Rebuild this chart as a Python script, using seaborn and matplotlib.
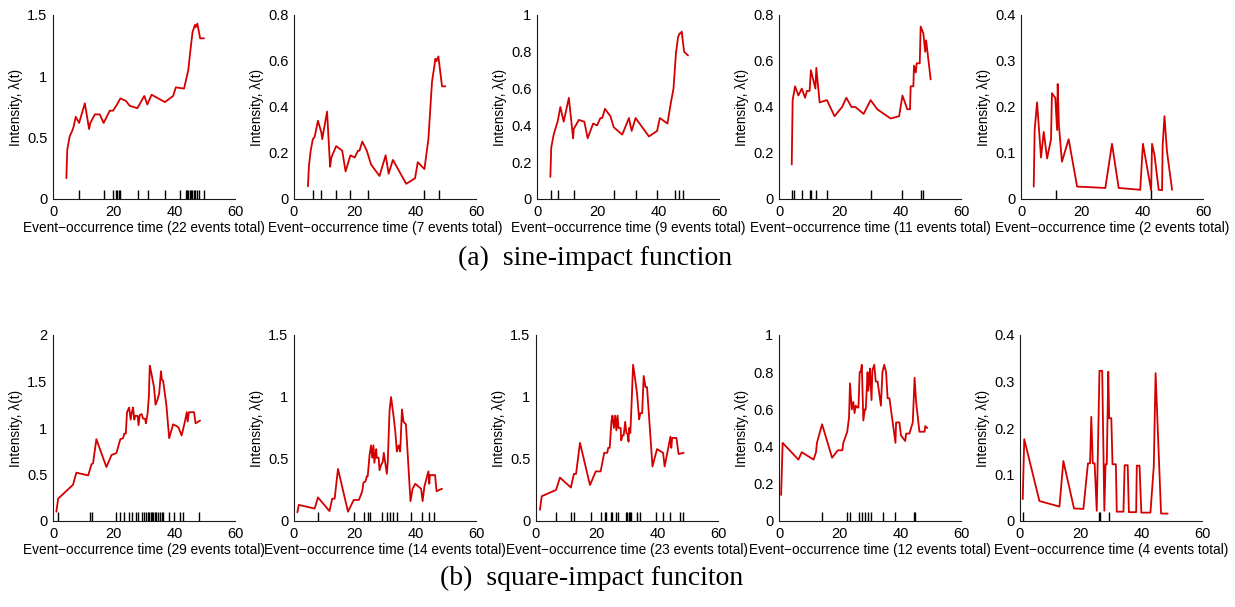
import numpy as np
import pandas as pd
import matplotlib
matplotlib.use("Agg")
import matplotlib.pyplot as plt
import seaborn as sns
from matplotlib.ticker import FuncFormatter, MultipleLocator

# ---------------- data ----------------
# (a) sine-impact function
t_a1 = [4.4, 4.7, 5.5, 6.4, 6.8, 7.5, 8.6, 10.5, 11.9, 12.3, 13.8, 15.4, 16.7, 18.7, 19.8, 21.1, 22.2,
        24.0, 25.3, 27.8, 30.1, 31.1, 32.5, 36.9, 39.6, 40.5, 43.2, 44.6, 45.2, 46.0, 46.8, 47.0, 47.6, 48.5, 49.8]
lam_a1 = [0.17, 0.40, 0.51, 0.56, 0.59, 0.67, 0.62, 0.78, 0.57, 0.62, 0.69, 0.69, 0.62, 0.72, 0.72, 0.77, 0.82,
          0.80, 0.76, 0.74, 0.84, 0.77, 0.85, 0.79, 0.84, 0.91, 0.90, 1.05, 1.19, 1.36, 1.42, 1.40, 1.43, 1.31, 1.31]
ev_a1 = [8.6, 16.8, 19.8, 20.7, 21.1, 21.6, 22.0, 28.0, 31.2, 37.0, 41.9, 43.7, 44.2, 44.6, 45.0, 45.5,
         45.9, 46.5, 46.9, 47.4, 48.2, 49.7]

t_a2 = [4.6, 4.9, 5.5, 6.2, 6.8, 7.9, 9.0, 9.3, 10.9, 11.9, 12.3, 13.9, 15.9, 17.0, 18.6, 20.0, 21.1, 21.6,
        22.5, 24.0, 25.4, 28.2, 30.2, 31.2, 32.6, 37.0, 39.9, 40.8, 43.0, 44.3, 45.5, 46.3, 46.6, 47.0, 47.6, 48.8, 49.9]
lam_a2 = [0.055, 0.14, 0.21, 0.26, 0.27, 0.34, 0.29, 0.26, 0.38, 0.14, 0.18, 0.23, 0.21, 0.12, 0.19, 0.18, 0.21, 0.21,
          0.25, 0.21, 0.15, 0.10, 0.19, 0.11, 0.17, 0.066, 0.09, 0.16, 0.13, 0.26, 0.51, 0.58, 0.61, 0.60, 0.62, 0.49, 0.49]
ev_a2 = [6.25, 9.0, 13.9, 18.6, 24.3, 43.0, 47.9]

t_a3 = [4.4, 4.7, 5.5, 6.4, 6.8, 7.7, 8.8, 10.5, 11.9, 12.1, 13.8, 15.6, 16.7, 18.5, 19.8, 20.9, 21.5, 22.4,
        24.2, 25.3, 28.1, 30.3, 31.2, 32.5, 36.9, 39.6, 40.5, 43.0, 44.1, 45.0, 45.8, 46.5, 47.0, 47.4, 47.7, 48.5, 49.8]
lam_a3 = [0.12, 0.28, 0.35, 0.40, 0.42, 0.50, 0.42, 0.55, 0.33, 0.38, 0.43, 0.42, 0.33, 0.41, 0.40, 0.44, 0.44, 0.49,
          0.45, 0.39, 0.35, 0.44, 0.37, 0.44, 0.34, 0.37, 0.44, 0.41, 0.52, 0.60, 0.79, 0.88, 0.90, 0.90, 0.91, 0.80, 0.78]
ev_a3 = [4.6, 6.8, 12.1, 25.3, 32.5, 39.6, 45.4, 46.8, 48.2]

t_a4 = [4.2, 4.5, 5.3, 6.4, 7.5, 8.6, 9.2, 10.1, 10.5, 12.0, 12.3, 13.4, 15.8, 18.3, 20.8, 22.2, 23.9, 25.2,
        27.9, 30.2, 31.3, 32.4, 36.8, 39.6, 40.7, 42.3, 43.2, 43.4, 44.3, 44.5, 45.1, 45.4, 46.4, 46.7, 47.6,
        48.2, 48.5, 50.0]
lam_a4 = [0.15, 0.43, 0.49, 0.45, 0.48, 0.44, 0.47, 0.47, 0.56, 0.48, 0.57, 0.42, 0.43, 0.36, 0.40, 0.44, 0.40, 0.40,
          0.37, 0.43, 0.41, 0.39, 0.35, 0.36, 0.45, 0.39, 0.39, 0.49, 0.49, 0.58, 0.55, 0.59, 0.59, 0.75, 0.72,
          0.64, 0.69, 0.52]
ev_a4 = [4.2, 5.0, 7.5, 10.1, 10.5, 12.3, 15.8, 30.2, 40.7, 46.7, 47.6]

t_a5 = [4.2, 4.5, 5.3, 6.6, 7.5, 8.6, 9.9, 10.2, 11.3, 11.9, 12.1, 12.5, 13.5, 15.7, 18.5, 27.8, 30.0, 32.2,
        39.3, 40.2, 42.9, 43.2, 44.0, 45.4, 46.5, 46.7, 47.3, 48.1, 49.8]
lam_a5 = [0.027, 0.15, 0.21, 0.09, 0.146, 0.088, 0.13, 0.23, 0.22, 0.15, 0.25, 0.16, 0.081, 0.13, 0.027, 0.024,
          0.12, 0.024, 0.02, 0.12, 0.019, 0.12, 0.096, 0.02, 0.019, 0.117, 0.18, 0.105, 0.02]
ev_a5 = [11.6, 42.9]

# (b) square-impact function
t_b1 = [1.1, 1.7, 6.6, 7.7, 11.6, 12.7, 13.2, 14.3, 17.6, 19.3, 20.9, 22.2, 23.1, 23.5, 24.0, 24.4, 25.1, 25.6,
        26.0, 26.4, 26.8, 27.1, 27.9, 28.2, 28.6, 29.2, 29.7, 30.4, 30.6, 31.2, 31.6, 31.9, 32.3, 33.3, 33.8,
        34.4, 35.0, 35.6, 35.9, 36.3, 37.4, 38.3, 39.6, 41.3, 42.4, 43.5, 44.1, 44.4, 44.8, 46.5, 47.0, 48.5]
lam_b1 = [0.10, 0.24, 0.39, 0.52, 0.49, 0.61, 0.62, 0.88, 0.58, 0.71, 0.73, 0.88, 0.89, 0.94, 0.94, 1.17, 1.22, 1.09,
          1.17, 1.22, 1.09, 1.13, 1.13, 1.03, 1.14, 1.15, 1.10, 1.10, 1.05, 1.16, 1.34, 1.67, 1.61, 1.44, 1.25,
          1.30, 1.37, 1.61, 1.52, 1.51, 1.24, 0.89, 1.04, 1.01, 0.92, 1.07, 1.17, 1.07, 1.17, 1.17, 1.05, 1.08]
ev_b1 = [1.7, 12.3, 12.9, 20.9, 22.2, 23.3, 25.0, 26.1, 27.5, 28.1, 29.5, 30.0, 30.6, 31.2, 31.6, 32.2, 32.5,
         33.0, 33.6, 34.1, 34.7, 35.2, 35.9, 36.3, 38.3, 39.9, 41.9, 42.7, 48.2]

t_b2 = [1.1, 1.6, 6.8, 7.9, 11.7, 12.6, 13.4, 14.5, 17.8, 19.7, 21.4, 22.5, 22.9, 23.6, 24.0, 24.3, 24.9, 25.4,
        25.8, 26.2, 26.5, 27.1, 27.3, 27.9, 28.2, 28.7, 29.3, 29.6, 30.2, 30.6, 30.9, 31.5, 32.0, 32.9, 33.4,
        33.9, 34.5, 35.0, 35.6, 36.1, 36.9, 38.4, 39.1, 40.0, 41.9, 42.4, 43.0, 44.3, 44.6, 44.8, 46.5, 47.0, 48.8]
lam_b2 = [0.07, 0.13, 0.10, 0.19, 0.08, 0.18, 0.18, 0.42, 0.075, 0.17, 0.17, 0.24, 0.31, 0.32, 0.36, 0.36, 0.53, 0.61,
          0.51, 0.61, 0.47, 0.58, 0.51, 0.51, 0.41, 0.45, 0.48, 0.55, 0.45, 0.38, 0.47, 0.89, 1.00, 0.83, 0.72,
          0.56, 0.61, 0.56, 0.90, 0.80, 0.78, 0.16, 0.26, 0.30, 0.26, 0.16, 0.28, 0.40, 0.30, 0.37, 0.37, 0.24, 0.26]
ev_b2 = [7.9, 19.7, 23.2, 24.3, 25.1, 29.1, 30.7, 31.7, 32.8, 34.0, 38.6, 42.2, 44.6, 46.3]

t_b3 = [1.3, 1.9, 6.6, 7.9, 11.5, 12.5, 13.2, 14.5, 17.8, 19.7, 21.3, 22.5, 23.5, 23.8, 24.3, 24.9, 25.2, 25.7,
        26.1, 26.5, 26.9, 27.2, 27.9, 28.1, 28.5, 28.9, 29.4, 29.8, 30.2, 30.5, 30.7, 31.1, 31.5, 32.0, 32.6,
        33.3, 34.0, 34.4, 35.0, 35.5, 36.1, 36.6, 38.4, 39.9, 41.9, 42.4, 43.3, 44.3, 44.6, 44.9, 46.3, 47.0, 48.7]
lam_b3 = [0.09, 0.20, 0.25, 0.35, 0.27, 0.38, 0.38, 0.63, 0.29, 0.40, 0.40, 0.55, 0.55, 0.59, 0.59, 0.81, 0.85, 0.75,
          0.85, 0.73, 0.85, 0.75, 0.75, 0.65, 0.69, 0.69, 0.80, 0.71, 0.70, 0.64, 0.75, 0.71, 0.94, 1.26, 1.16,
          1.03, 0.82, 0.87, 0.87, 1.17, 1.08, 1.08, 0.44, 0.58, 0.55, 0.44, 0.55, 0.68, 0.59, 0.67, 0.67, 0.54, 0.55]
ev_b3 = [6.6, 11.7, 12.5, 18.0, 21.3, 22.7, 23.2, 24.6, 24.9, 26.3, 27.1, 29.6, 30.0, 30.5, 30.9, 31.2,
         33.4, 34.4, 39.7, 41.9, 44.3, 47.4, 48.5]

t_b4 = [0.7, 1.2, 6.4, 7.5, 11.4, 12.2, 12.5, 14.2, 17.5, 19.4, 20.9, 21.2, 22.5, 23.1, 23.4, 24.0, 24.5, 24.9,
        25.3, 25.8, 26.2, 26.6, 26.9, 27.3, 27.8, 28.3, 28.6, 29.2, 29.4, 29.8, 30.0, 30.5, 30.8, 31.4, 31.9,
        32.5, 33.6, 34.1, 34.7, 35.3, 35.8, 36.4, 38.4, 38.6, 39.7, 40.2, 41.6, 41.9, 43.0, 44.1, 44.7, 45.2,
        46.3, 48.0, 48.2, 48.9]
lam_b4 = [0.14, 0.42, 0.33, 0.37, 0.33, 0.37, 0.42, 0.52, 0.34, 0.38, 0.38, 0.42, 0.48, 0.56, 0.74, 0.60, 0.64, 0.58,
          0.62, 0.61, 0.61, 0.80, 0.80, 0.84, 0.54, 0.60, 0.60, 0.80, 0.70, 0.75, 0.82, 0.65, 0.81, 0.84, 0.75,
          0.75, 0.62, 0.80, 0.84, 0.80, 0.66, 0.66, 0.42, 0.53, 0.53, 0.46, 0.43, 0.47, 0.47, 0.53, 0.77, 0.64,
          0.48, 0.48, 0.51, 0.50]
ev_b4 = [14.2, 22.5, 23.3, 26.4, 27.5, 28.3, 29.2, 30.3, 34.4, 38.2, 44.5, 44.7]

t_b5 = [0.9, 1.4, 6.4, 13.0, 14.3, 17.8, 20.9, 22.4, 23.1, 23.5, 24.0, 24.6, 25.3, 26.2, 27.1, 27.8, 28.2, 28.6,
        29.1, 29.4, 30.1, 30.5, 31.6, 31.9, 34.1, 34.5, 35.5, 35.9, 38.3, 38.5, 39.4, 40.0, 43.0, 44.1, 44.7,
        46.5, 48.7]
lam_b5 = [0.047, 0.176, 0.043, 0.031, 0.129, 0.027, 0.026, 0.124, 0.124, 0.224, 0.124, 0.124, 0.022, 0.323, 0.323,
          0.022, 0.122, 0.122, 0.321, 0.221, 0.221, 0.122, 0.122, 0.020, 0.020, 0.120, 0.120, 0.019, 0.019, 0.119,
          0.119, 0.018, 0.018, 0.117, 0.318, 0.016, 0.016]
ev_b5 = [0.9, 26.2, 26.4, 29.2]

event_totals_a = [22, 7, 9, 11, 2]
event_totals_b = [29, 14, 23, 12, 4]
ymax_a = [1.5, 0.8, 1.0, 0.8, 0.4]
ystep_a = [0.5, 0.2, 0.2, 0.2, 0.1]
ymax_b = [2.0, 1.5, 1.5, 1.0, 0.4]
ystep_b = [0.5, 0.5, 0.5, 0.2, 0.1]
x_ticks = [0, 20, 40, 60]
caption_a = "(a)  sine-impact function"
caption_b = "(b)  square-impact funciton"

# ---------------- drawing ----------------
sns.set_style("white")
plt.rcParams["font.family"] = ["Liberation Sans", "DejaVu Sans"]
plt.rcParams["text.color"] = "black"
plt.rcParams["axes.labelcolor"] = "black"
plt.rcParams["xtick.color"] = "black"
plt.rcParams["ytick.color"] = "black"

fig = plt.figure(figsize=(12.35, 6.07), dpi=100)
W, H = 1235, 607
RED = "#d40000"

lefts_a = [53, 294, 537, 779, 1021]
lefts_b = [53, 294, 536, 779, 1020]
axw = 182

top_a = dict(t=[t_a1, t_a2, t_a3, t_a4, t_a5], lam=[lam_a1, lam_a2, lam_a3, lam_a4, lam_a5],
             ev=[ev_a1, ev_a2, ev_a3, ev_a4, ev_a5], tot=event_totals_a, ymax=ymax_a, ystep=ystep_a,
             lefts=lefts_a, top=15, bottom=199)
bot_b = dict(t=[t_b1, t_b2, t_b3, t_b4, t_b5], lam=[lam_b1, lam_b2, lam_b3, lam_b4, lam_b5],
             ev=[ev_b1, ev_b2, ev_b3, ev_b4, ev_b5], tot=event_totals_b, ymax=ymax_b, ystep=ystep_b,
             lefts=lefts_b, top=335, bottom=521)

fmt = FuncFormatter(lambda v, p: f"{v:g}")

for row in (top_a, bot_b):
    for i in range(5):
        l = row["lefts"][i]
        ax = fig.add_axes([l / W, 1 - row["bottom"] / H, axw / W, (row["bottom"] - row["top"]) / H])
        df = pd.DataFrame({"t": row["t"][i], "lam": row["lam"][i]})
        sns.lineplot(data=df, x="t", y="lam", ax=ax, color=RED, lw=1.3,
                     estimator=None, sort=False, legend=False)
        sns.rugplot(x=row["ev"][i], ax=ax, height=0.05, color="black", lw=0.9, expand_margins=False)
        ax.set_xlim(0, 60)
        ax.set_ylim(0, row["ymax"][i])
        ax.set_xticks(x_ticks)
        ax.yaxis.set_major_locator(MultipleLocator(row["ystep"][i]))
        ax.xaxis.set_major_formatter(fmt)
        ax.yaxis.set_major_formatter(fmt)
        for s in ("top", "right"):
            ax.spines[s].set_visible(False)
        for s in ("left", "bottom"):
            ax.spines[s].set_color("#1a1a1a")
            ax.spines[s].set_linewidth(0.8)
        ax.tick_params(direction="in", length=3, width=0.7, labelsize=10.5, pad=4,
                       colors="black", labelcolor="black")
        ax.set_xlabel(f"Event\u2212occurrence time ({row['tot'][i]} events total)", fontsize=9.8,
                      labelpad=2, color="black")
        ax.set_ylabel("Intensity, \u03bb(t)", fontsize=9.8, labelpad=3, color="black")
        ax.set_facecolor("white")

fig.text(0.482, 1 - 258 / H, caption_a, ha="center", va="center", fontsize=20,
         family="Liberation Serif", color="black")
fig.text(0.479, 1 - 578 / H, caption_b, ha="center", va="center", fontsize=20,
         family="Liberation Serif", color="black")

fig.savefig("out.png", dpi=100, facecolor="white")
